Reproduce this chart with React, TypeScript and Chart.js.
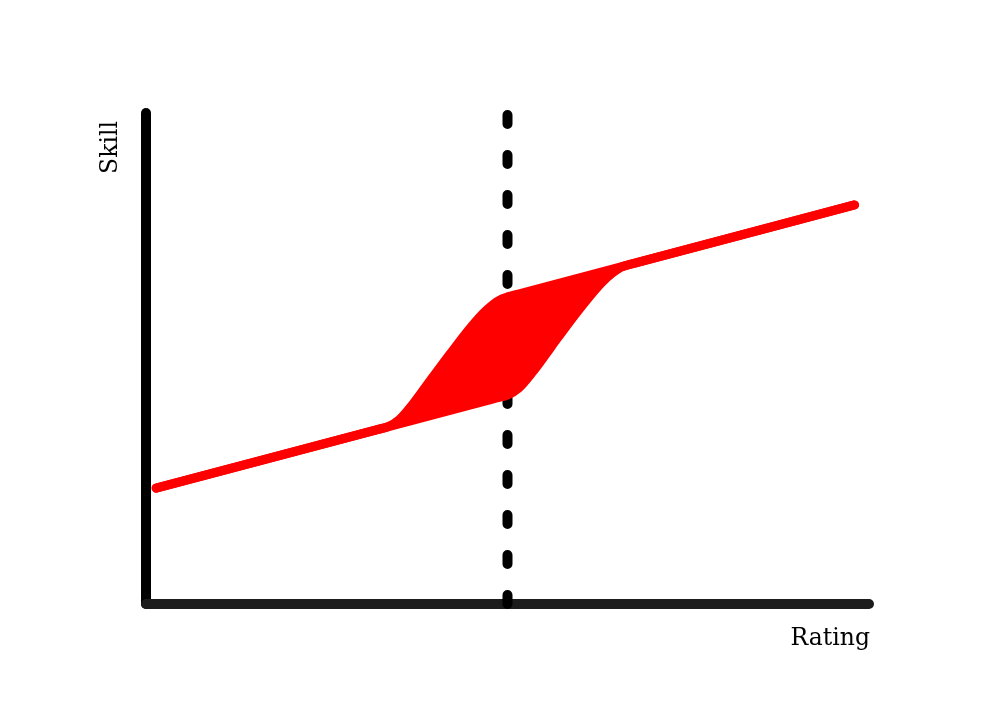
import React, { useEffect, useRef } from "react";
import { Chart, registerables } from "chart.js";

Chart.register(...registerables);

// Upper boundary of the skill band (rating, skill)
const upperRating = [0.14, 3.2, 3.35, 3.5, 3.7, 3.95, 4.2, 4.45, 4.65, 4.8, 4.92, 5.0, 5.15, 9.8];
const upperSkill = [2.36, 3.553, 3.612, 3.75, 4.09, 4.59, 5.08, 5.56, 5.9, 6.1, 6.21, 6.255, 6.314, 8.127];
// Lower boundary of the skill band
const lowerRating = [0.14, 4.7, 4.85, 5.0, 5.15, 5.35, 5.6, 5.85, 6.1, 6.3, 6.45, 6.57, 6.65, 6.8, 9.8];
const lowerSkill = [2.36, 4.138, 4.197, 4.255, 4.39, 4.73, 5.23, 5.73, 6.2, 6.54, 6.74, 6.86, 6.9, 6.957, 8.127];

const axisRange = { xMin: 0, xMax: 10, yMin: 0, yMax: 10 };
const thresholdX = 5.0;
const xLabel = "Rating";
const yLabel = "Skill";

export default function App() {
  const ref = useRef<HTMLCanvasElement | null>(null);

  useEffect(() => {
    if (!ref.current) return;
    const toPts = (xs: number[], ys: number[]) => xs.map((x, i) => ({ x, y: ys[i] }));

    const labelsPlugin = {
      id: "axisLabels",
      afterDraw(chart: any) {
        const { ctx, chartArea } = chart;
        ctx.save();
        ctx.fillStyle = "#000";
        ctx.font = '23.5px "DejaVu Serif"';
        ctx.textBaseline = "alphabetic";
        ctx.textAlign = "right";
        ctx.fillText(xLabel, chartArea.right + 1, chartArea.bottom + 41);
        ctx.translate(chartArea.left - 29, chartArea.top + 8);
        ctx.rotate(-Math.PI / 2);
        ctx.textAlign = "right";
        ctx.fillText(yLabel, 0, 0);
        ctx.restore();
      },
    };

    const chart = new Chart(ref.current, {
      type: "line",
      data: {
        datasets: [
          {
            data: toPts(lowerRating, lowerSkill),
            borderColor: "#ff0000",
            borderWidth: 9,
            borderCapStyle: "round",
            borderJoinStyle: "round",
            cubicInterpolationMode: "monotone",
            pointRadius: 0,
            fill: false,
            clip: false,
            order: 1,
          },
          {
            data: toPts(upperRating, upperSkill),
            borderColor: "#ff0000",
            backgroundColor: "#ff0000",
            borderWidth: 9,
            borderCapStyle: "round",
            borderJoinStyle: "round",
            cubicInterpolationMode: "monotone",
            pointRadius: 0,
            fill: "-1",
            clip: false,
            order: 0,
          },
          {
            data: [
              { x: thresholdX, y: axisRange.yMin },
              { x: thresholdX, y: axisRange.yMax },
            ],
            borderColor: "#000000",
            borderWidth: 10,
            borderCapStyle: "round",
            borderDash: [9, 31],
            pointRadius: 0,
            fill: false,
            clip: false,
            order: 2,
          },
          {
            data: [
              { x: axisRange.xMin, y: axisRange.yMin },
              { x: axisRange.xMax, y: axisRange.yMin },
            ],
            borderColor: "#1c1c1c",
            borderWidth: 10,
            borderCapStyle: "round",
            pointRadius: 0,
            fill: false,
            clip: false,
            order: 3,
          },
          {
            data: [
              { x: axisRange.xMin, y: axisRange.yMin },
              { x: axisRange.xMin, y: axisRange.yMax },
            ],
            borderColor: "#000000",
            borderWidth: 10,
            borderCapStyle: "round",
            pointRadius: 0,
            fill: false,
            clip: false,
            order: 4,
          },
        ],
      },
      options: {
        responsive: false,
        animation: false,
        events: [],
        layout: { padding: { left: 146, right: 126, top: 113, bottom: 99 } },
        plugins: { legend: { display: false }, tooltip: { enabled: false } },
        scales: {
          x: { type: "linear", display: false, min: axisRange.xMin, max: axisRange.xMax },
          y: { type: "linear", display: false, min: axisRange.yMin, max: axisRange.yMax },
        },
      },
      plugins: [labelsPlugin],
    } as any);
    return () => chart.destroy();
  }, []);

  return (
    <div style={{ position: "absolute", left: 0, top: 0, width: 995, height: 703, background: "#fff" }}>
      <canvas ref={ref} width={995} height={703} style={{ display: "block" }} />
    </div>
  );
}
